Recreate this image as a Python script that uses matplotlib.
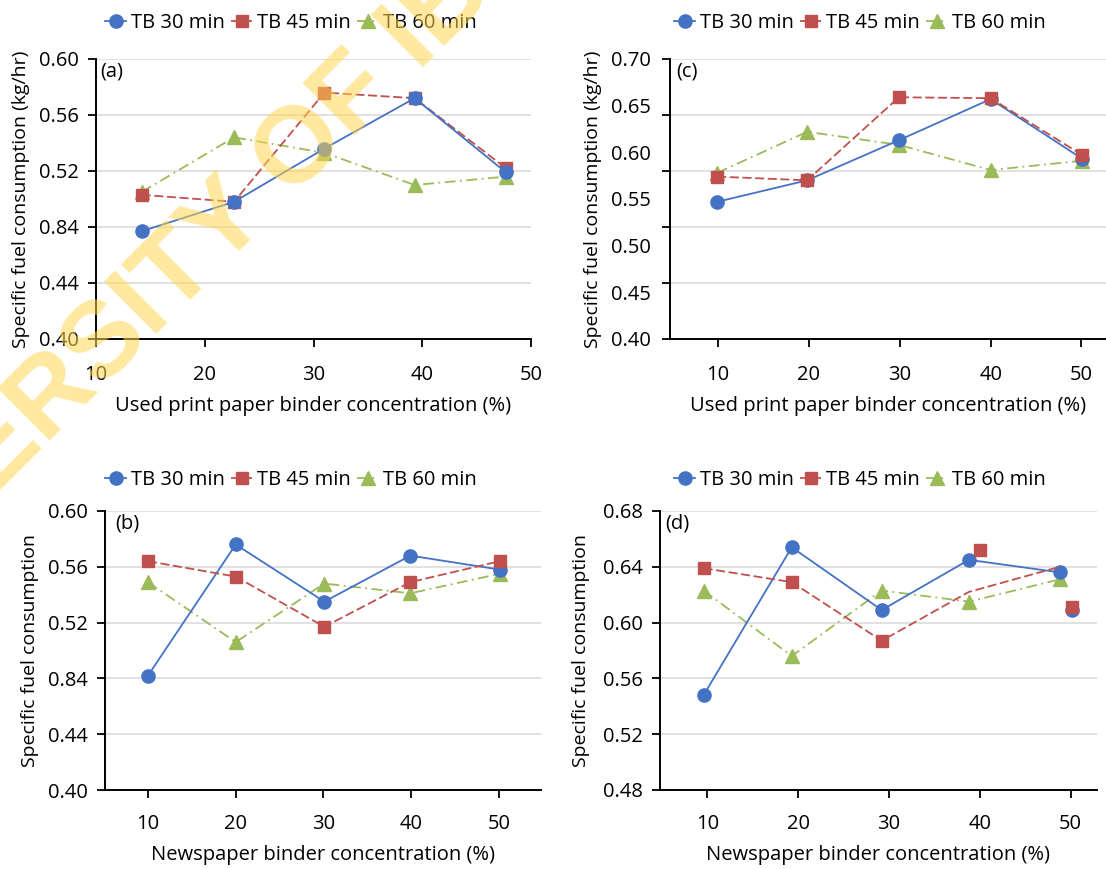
import numpy as np
import matplotlib
matplotlib.use("Agg")
import matplotlib.pyplot as plt
from matplotlib.lines import Line2D

plt.rcParams["font.family"] = ["Open Sans", "DejaVu Sans"]
plt.rcParams["font.size"] = 14.5

BLUE, RED, GREEN = "#4472C4", "#C0504D", "#9BBB59"
series = ["TB 30 min", "TB 45 min", "TB 60 min"]

# ---- panel (a): used print paper, kg/hr ------------------------------------
a_x = [14.2, 22.7, 31.0, 39.3, 47.7]
a_30 = [0.477, 0.498, 0.536, 0.572, 0.519]
a_45 = [0.503, 0.498, 0.576, 0.572, 0.522]
a_60 = [0.505, 0.544, 0.533, 0.510, 0.516]
a_yticks = [0.40, 0.44, 0.48, 0.52, 0.56, 0.60]
a_ylabels = ["0.40", "0.44", "0.84", "0.52", "0.56", "0.60"]

# ---- panel (c): used print paper, kg/hr ------------------------------------
c_x = [9.9, 19.8, 29.9, 40.0, 50.1]
c_30 = [0.547, 0.570, 0.613, 0.657, 0.593]
c_45 = [0.574, 0.570, 0.659, 0.658, 0.597]
c_60 = [0.578, 0.622, 0.608, 0.581, 0.591]
c_grid = [0.40, 0.46, 0.52, 0.58, 0.64, 0.70]
c_ylabels = ["0.40", "0.45", "0.50", "0.55", "0.60", "0.65", "0.70"]

# ---- panel (b): newspaper ----------------------------------------------------
b_x = [10.0, 20.0, 30.1, 39.9, 50.1]
b_30 = [0.482, 0.576, 0.535, 0.568, 0.558]
b_45 = [0.564, 0.553, 0.517, 0.549, 0.564]
b_60 = [0.549, 0.506, 0.548, 0.541, 0.555]

# ---- panel (d): newspaper ----------------------------------------------------
d_x = [9.6, 19.3, 29.2, 38.8, 48.8]
d_30 = [0.548, 0.654, 0.609, 0.645, 0.636]
d_45 = [0.639, 0.629, 0.587, 0.622, 0.640]
d_60 = [0.623, 0.576, 0.623, 0.615, 0.631]
d_45_stray_x = [40.0, 50.1]
d_45_stray = [0.652, 0.611]
d_30_stray_x = [50.1]
d_30_stray = [0.609]
d_yticks = [0.48, 0.52, 0.56, 0.60, 0.64, 0.68]

xticks = [10, 20, 30, 40, 50]

W, H = 1106, 869
fig = plt.figure(figsize=(W / 100, H / 100), dpi=100)


def px_axes(l, t, r, b):
    return fig.add_axes([l / W, 1 - b / H, (r - l) / W, (b - t) / H])


STY = {
    "30": dict(color=BLUE, ls="-", marker="o", ms=9.5, lw=1.3),
    "45": dict(color=RED, ls=(0, (5, 2)), marker="s", ms=8.5, lw=1.3),
    "60": dict(color=GREEN, ls=(0, (6, 2.5, 1, 2.5)), marker="^", ms=9.5, lw=1.3),
}


def style(ax, xlim, ylim, xlabel, ylabel, tag, xpad, ylab_gap, tag_dx):
    ax.set_xlim(*xlim)
    ax.set_ylim(*ylim)
    for s in ("top", "right"):
        ax.spines[s].set_visible(False)
    for s in ("left", "bottom"):
        ax.spines[s].set_linewidth(1.4)
    ax.set_xticks(xticks)
    ax.tick_params(axis="x", length=6, width=1.3, pad=xpad)
    ax.tick_params(axis="y", length=6, width=1.3, pad=6.5)
    ax.yaxis.grid(True, color="#D9D9D9", lw=1.1)
    ax.set_axisbelow(True)
    wpx = ax.get_position().width * W
    hpx = ax.get_position().height * H
    ax.set_ylabel(ylabel, fontsize=14)
    ax.yaxis.set_label_coords(-ylab_gap / wpx, 0.5)
    ax.set_xlabel(xlabel)
    ax.xaxis.labelpad = 8
    ax.text(tag_dx / wpx, 1 - 3 / hpx, tag, transform=ax.transAxes, ha="left", va="top")


def draw(ax, x, y30, y45, y60, order=("60", "45", "30")):
    data = {"30": y30, "45": y45, "60": y60}
    for z, k in enumerate(order):
        st = STY[k]
        ax.plot(x, data[k], color=st["color"], ls=st["ls"], lw=st["lw"],
                marker=st["marker"], ms=st["ms"], mec=st["color"], zorder=3 + z)


def legend(cx, cy):
    hs = [Line2D([], [], **STY[k]) for k in ("30", "45", "60")]
    fig.legend(hs, series, loc="center", bbox_to_anchor=(cx / W, 1 - cy / H),
               ncol=3, frameon=False, handlelength=1.05, handletextpad=0.25,
               columnspacing=0.3, borderpad=0, fontsize=14.5)


lab_up = "Used print paper binder concentration (%)"
lab_np = "Newspaper binder concentration (%)"

# (a)
ax = px_axes(96, 59, 531, 339)
draw(ax, a_x, a_30, a_45, a_60)
style(ax, (10, 50), (0.40, 0.60), lab_up, "Specific fuel consumption (kg/hr)", "(a)", 13, 66, 4)
ax.set_yticks(a_yticks)
ax.set_yticklabels(a_ylabels)
legend(291, 23)

# (c)
ax = px_axes(670, 59, 1106, 339)
draw(ax, c_x, c_30, c_45, c_60, order=("60", "30", "45"))
style(ax, (4.7, 52.7), (0.40, 0.70), lab_up, "Specific fuel consumption (kg/hr)", "(c)", 13, 68, 6)
ax.yaxis.remove_overlapping_locs = False
ax.set_yticks(c_grid)
ax.set_yticklabels([])
ax.set_yticks(np.linspace(0.40, 0.70, len(c_ylabels)), minor=True)
ax.set_yticklabels(c_ylabels, minor=True)
ax.tick_params(axis="y", which="minor", length=0, pad=14)
legend(860, 23)

# (b)
ax = px_axes(105, 511, 541, 790)
draw(ax, b_x, b_30, b_45, b_60, order=("60", "30", "45"))
style(ax, (5.1, 54.8), (0.40, 0.60), lab_np, "Specific fuel consumption", "(b)", 11, 66, 10)
ax.set_yticks(a_yticks)
ax.set_yticklabels(a_ylabels)
legend(291, 480)

# (d)
ax = px_axes(660, 511, 1097, 790)
ax.plot(d_x, d_30, color=BLUE, ls="-", lw=1.3, marker="o", ms=9.5, zorder=4)
ax.plot(d_30_stray_x, d_30_stray, ls="none", marker="o", ms=9.5, color=BLUE, zorder=4)
ax.plot(d_x, d_45, color=RED, ls=STY["45"]["ls"], lw=1.3, marker="s", ms=8.5,
        markevery=[0, 1, 2], zorder=5)
ax.plot(d_45_stray_x, d_45_stray, ls="none", marker="s", ms=8.5, color=RED, zorder=5)
ax.plot(d_x, d_60, color=GREEN, ls=STY["60"]["ls"], lw=1.3, marker="^", ms=9.5, zorder=3)
style(ax, (4.8, 52.9), (0.48, 0.68), lab_np, "Specific fuel consumption", "(d)", 11, 70, 5)
ax.set_yticks(d_yticks)
ax.set_yticklabels([f"{v:.2f}" for v in d_yticks])
legend(860, 480)

# watermark
fig.text(244 / W, 1 - 207 / H, "UNIVERSITY OF IBADAN", fontsize=78, fontweight="bold",
         family="Liberation Sans", color="#FFD54F", alpha=0.55, rotation=45,
         ha="center", va="center", rotation_mode="anchor", zorder=20)

fig.savefig("out.png", dpi=100)
